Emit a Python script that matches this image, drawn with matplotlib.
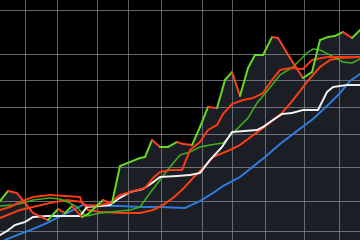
import numpy as np
import matplotlib
matplotlib.use("Agg")
import matplotlib.pyplot as plt
from matplotlib.collections import LineCollection

H = 240  # price scale top

# Top (direction-coloured) series
top_t = [0, 8, 17, 25, 33, 48, 58, 65, 72, 82, 88, 103, 108, 112, 120, 140, 145, 152, 160, 168,
         177, 183, 192, 200, 208, 217, 225, 232, 240, 248, 255, 263, 272, 278, 290, 303, 312,
         320, 328, 335, 343, 352, 360]
top_p = [39, 49, 47, 37, 27, 20, 31, 27, 34, 23, 26, 40, 38, 37, 74, 82, 83, 100, 93, 93,
         98, 96, 95, 113, 133, 132, 160, 168, 144, 172, 185, 185, 203, 202, 182, 162, 168,
         200, 203, 204, 208, 202, 210]

# Medium green series
grn_t = [0, 13, 23, 33, 50, 60, 70, 77, 82, 87, 100, 110, 130, 140, 150, 160, 170, 180, 190,
         200, 210, 223, 233, 248, 257, 268, 280, 293, 307, 313, 320, 328, 343, 352, 360]
grn_p = [34, 35, 37, 40, 42, 41, 37, 33, 27, 24, 27, 28, 30, 33, 47, 60, 73, 85, 88,
         93, 95, 97, 107, 122, 137, 150, 165, 173, 187, 191, 190, 186, 178, 177, 181]

# Upper red series
red1_t = [0, 10, 20, 33, 50, 80, 82, 88, 100, 110, 120, 130, 145, 153, 160, 170, 182, 190,
          200, 208, 217, 223, 232, 243, 253, 263, 272, 280, 290, 303, 312, 327, 340, 360]
red1_p = [30, 33, 38, 43, 45, 43, 37, 34, 35, 37, 45, 48, 52, 62, 68, 70, 70, 90,
          98, 110, 115, 126, 136, 140, 142, 147, 160, 170, 172, 171, 180, 183, 183, 183]

# Lower red series
red2_t = [0, 20, 50, 67, 82, 88, 100, 123, 140, 153, 163, 173, 183, 193, 203, 213, 230, 240,
          252, 263, 272, 282, 293, 307, 320, 330, 340, 360]
red2_p = [22, 30, 37, 40, 38, 30, 28, 27, 27, 30, 35, 42, 51, 62, 72, 83, 90, 95,
          104, 112, 119, 127, 140, 158, 173, 180, 182, 183]

# White series
wht_t = [0, 7, 15, 25, 33, 47, 80, 87, 100, 110, 118, 130, 143, 152, 160, 177, 190, 200, 210,
         222, 232, 257, 263, 273, 282, 292, 303, 318, 327, 333, 347, 360]
wht_p = [5, 9, 15, 18, 23, 24, 24, 33, 34, 35, 41, 48, 51, 57, 63, 64, 65, 67, 80,
         93, 108, 110, 113, 120, 126, 127, 130, 130, 148, 153, 155, 155]

# Blue series
blu_t = [5, 10, 20, 33, 47, 57, 67, 77, 83, 100, 120, 140, 160, 185, 200, 213, 223, 240, 265,
         280, 297, 313, 327, 340, 350, 360]
blu_p = [0, 2, 6, 11, 17, 22, 27, 32, 35, 34, 34, 33, 33, 32, 39, 47, 54, 63, 83,
         96, 109, 121, 134, 147, 159, 166]

# Grid levels
grid_t = [25, 57, 97, 128, 161, 202, 232, 265, 304, 339]
grid_p = [230, 186, 160, 133, 106, 73, 39, 9]

fig = plt.figure(figsize=(3.6, 2.4), dpi=100, facecolor="black")
ax = fig.add_axes([0, 0, 1, 1])
ax.set_facecolor("black")
ax.set_xlim(0, 360)
ax.set_ylim(0, H)
for s in ax.spines.values():
    s.set_visible(False)
ax.set_xticks([])
ax.set_yticks([])

# shaded area under top series
ax.fill_between(top_t, top_p, 0, color="#1b1e24", zorder=1, linewidth=0)

# grid
for x in grid_t:
    ax.axvline(x, color="#8a9098", lw=0.7, alpha=0.7, zorder=2)
for y in grid_p:
    ax.axhline(y, color="#8a9098", lw=0.7, alpha=0.75, zorder=2)

lw = 1.4
ax.plot(blu_t, blu_p, color="#2f7de0", lw=lw, zorder=3)
ax.plot(red2_t, red2_p, color="#ff4010", lw=lw, zorder=4)
ax.plot(grn_t, grn_p, color="#3fb020", lw=1.1, zorder=4)
ax.plot(wht_t, wht_p, color="#f4f4f4", lw=lw, zorder=5)
ax.plot(red1_t, red1_p, color="#ff3a12", lw=lw, zorder=5)

# top series coloured by direction
pts = np.column_stack([top_t, top_p])
segs = np.stack([pts[:-1], pts[1:]], axis=1)
cols = ["#66dd22" if b >= a else "#ff4020" for a, b in zip(top_p[:-1], top_p[1:])]
lc = LineCollection(segs, colors=cols, linewidths=lw, zorder=6, capstyle="round")
ax.add_collection(lc)

fig.savefig("out.png", dpi=100, facecolor="black")
